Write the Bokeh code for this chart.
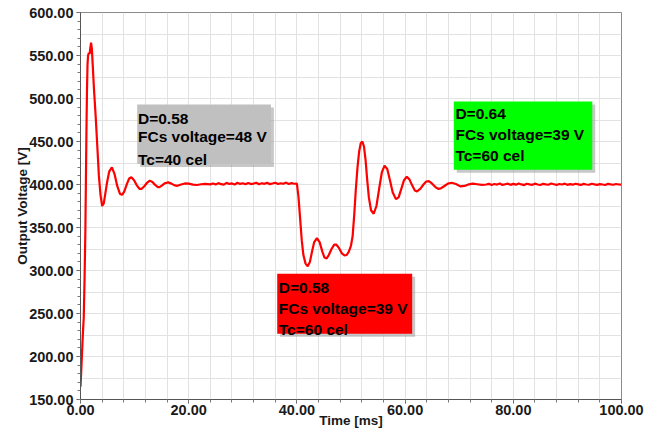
import numpy as np
from bokeh.plotting import figure
from bokeh.models import (Range1d, SingleIntervalTicker, PrintfTickFormatter,
                          BoxAnnotation, Label, ColumnDataSource)
from bokeh.embed import file_html
from bokeh.resources import INLINE

# ---- data (time in ms, voltage in V) ----
startup_t = [0.0, 0.15, 0.3, 0.45, 0.6, 0.75, 0.9, 1.0, 1.1, 1.2, 1.3, 1.4, 1.55, 1.7, 1.8,
             1.95, 2.1, 2.25, 2.5, 2.8, 3.1, 3.4, 3.7, 4.0, 4.3, 4.6, 4.9, 5.3, 5.8, 6.3,
             6.8, 7.3, 7.7, 8.1, 8.6, 9.0, 9.4, 9.9, 10.4, 10.9, 11.3, 11.8, 12.3, 12.8,
             13.3, 13.8, 14.3, 14.6, 15.1, 15.6, 16.2, 16.8, 17.4, 17.9, 18.6, 19.3, 20.0,
             20.8, 21.5, 22.3, 23.0, 24.0]
startup_v = [165, 185, 207, 228, 245, 290, 346, 405, 463, 510, 540, 550, 553, 552, 558,
             565, 558, 540, 510, 480, 445, 410, 388, 375, 378, 390, 402, 415, 420, 412,
             398, 389, 388, 392, 401, 407, 408.5, 405, 399, 395, 395, 398, 402, 404.5,
             403, 399.5, 397, 397, 399, 401.5, 402.5, 401, 399, 398.5, 400, 401.2, 401,
             399.8, 399.4, 400.3, 400.8, 400.2]

flat1_t = [24.5, 25.0, 25.5, 26.0, 26.5, 27.0, 27.5, 28.0, 28.5, 29.0, 29.5, 30.0, 30.5,
           31.0, 31.5, 32.0, 32.5, 33.0, 33.5, 34.0, 34.5, 35.0, 35.5, 36.0, 36.5, 37.0,
           37.5, 38.0, 38.5, 39.0, 39.5]
flat1_v = [401.2, 400.0, 401.6, 400.4, 399.8, 401.9, 400.6, 401.3, 399.9, 402.0, 400.7,
           401.4, 400.2, 401.8, 400.5, 401.1, 402.1, 400.3, 401.5, 400.8, 401.9, 400.4,
           401.2, 402.0, 400.6, 401.4, 400.9, 402.2, 400.5, 401.6, 400.9]

dip_t = [40.0, 40.3, 40.6, 40.9, 41.2, 41.6, 42.0, 42.4, 42.8, 43.2, 43.7, 44.2, 44.7,
         45.1, 45.5, 45.9, 46.4, 46.9, 47.3, 47.8, 48.3, 48.8, 49.2, 49.6, 50.0, 50.3,
         50.6, 50.9, 51.2, 51.5, 51.8, 52.1, 52.4, 52.7, 53.0, 53.3, 53.7, 54.2, 54.7,
         55.2, 55.7, 56.2, 56.7, 57.2, 57.7, 58.3, 58.8, 59.3, 59.8, 60.3, 60.8, 61.3,
         61.8, 62.2, 62.8, 63.4, 63.9, 64.4, 65.0, 65.6, 66.1, 66.6, 67.2, 67.9, 68.6,
         69.4, 70.2, 71.0, 71.8, 72.5, 73.3, 74.2, 75.0]
dip_v = [401, 385, 360, 335, 318, 308, 305, 310, 322, 333, 337.5, 333, 322,
         315, 314, 318, 325, 330, 330, 326, 320, 317.5, 318, 322, 329, 340,
         365, 395, 420, 438, 448, 450, 444, 428, 405, 385, 370, 366, 375,
         395, 414, 422, 418, 405, 391, 383, 385, 395, 405, 409, 406, 399,
         393, 392, 395, 400, 403.5, 404, 401, 397, 395, 395.5, 398, 401, 402,
         400.5, 397.8, 398.3, 400.2, 401, 400.3, 399.5, 400]

flat2_t = [75.5, 76.0, 76.5, 77.0, 77.5, 78.0, 78.5, 79.0, 79.5, 80.0, 80.5, 81.0, 81.5,
           82.0, 82.5, 83.0, 83.5, 84.0, 84.5, 85.0, 85.5, 86.0, 86.5, 87.0, 87.5, 88.0,
           88.5, 89.0, 89.5, 90.0, 90.5, 91.0, 91.5, 92.0, 92.5, 93.0, 93.5, 94.0, 94.5,
           95.0, 95.5, 96.0, 96.5, 97.0, 97.5, 98.0, 98.5, 99.0, 99.5, 100.0]
flat2_v = [400.8, 399.4, 400.6, 399.9, 401.1, 399.5, 400.3, 401.0, 399.6, 400.7, 399.8,
           401.2, 400.1, 399.3, 400.9, 400.2, 399.6, 401.0, 400.0, 399.4, 400.8, 400.1,
           399.7, 401.1, 400.3, 399.5, 400.6, 400.0, 401.0, 399.6, 400.4, 399.8, 400.9,
           400.2, 399.5, 400.7, 400.0, 399.7, 400.9, 400.1, 399.6, 400.5, 400.0, 399.4,
           400.8, 400.2, 399.7, 400.6, 400.0, 399.8]

time_ms = startup_t + flat1_t + dip_t + flat2_t
volts = startup_v + flat1_v + dip_v + flat2_v

x_major_step = 20
y_major_step = 50

FONT = "Liberation Sans"

p = figure(width=654, height=430, output_backend="svg", toolbar_location=None,
           x_range=Range1d(0, 100), y_range=Range1d(150, 600),
           min_border_left=80, min_border_right=33, min_border_top=12, min_border_bottom=31)
p.background_fill_color = "white"
p.border_fill_color = "white"
p.outline_line_color = "#8a8a8a"
p.outline_line_width = 1

# axes
p.xaxis.ticker = SingleIntervalTicker(interval=x_major_step, num_minor_ticks=5)
p.yaxis.ticker = SingleIntervalTicker(interval=y_major_step, num_minor_ticks=5)
for ax in (p.xaxis[0], p.yaxis[0]):
    ax.formatter = PrintfTickFormatter(format="%.2f")
    ax.major_label_text_font = FONT
    ax.major_label_text_font_style = "bold"
    ax.major_label_text_font_size = "14.5px"
    ax.major_label_text_color = "#1a1a1a"
    ax.axis_line_color = "#555555"
    ax.major_tick_line_color = "#555555"
    ax.minor_tick_line_color = "#777777"
    ax.major_tick_in = 0
    ax.minor_tick_in = 0
    ax.axis_label_text_font = FONT
    ax.axis_label_text_font_style = "bold"
    ax.axis_label_text_font_size = "13.5px"
    ax.axis_label_text_color = "#1a1a1a"
p.xaxis.major_tick_out = 4
p.xaxis.minor_tick_out = 3
p.xaxis.major_label_standoff = 1
p.xaxis.axis_label = "Time [ms]"
p.xaxis.axis_label_standoff = -5
p.yaxis.major_tick_out = 4
p.yaxis.minor_tick_out = 3
p.yaxis.major_label_standoff = 3
p.yaxis.axis_label = "Output Voltage [V]"
p.yaxis.axis_label_standoff = -4

# grid
p.xgrid.ticker = SingleIntervalTicker(interval=4)
p.ygrid.ticker = SingleIntervalTicker(interval=25)
p.xgrid.grid_line_color = "#e2e2e2"
p.ygrid.grid_line_color = "#e2e2e2"

# annotation boxes (shadow + box)
boxes = [
    dict(l=10.48, r=35.2, t=493.0, b=423.8, c="#c0c0c0",
         lines=["D=0.58", "FCs voltage=48 V", "Tc=40 cel"], tx=10.63, ty=[477.1, 455.8, 429.1]),
    dict(l=36.36, r=61.31, t=296.2, b=226.4, c="#ff0000",
         lines=["D=0.58", "FCs voltage=39 V", "Tc=60 cel"], tx=36.65, ty=[280.6, 256.2, 231.4]),
    dict(l=69.0, r=94.6, t=496.5, b=417.1, c="#00ff00",
         lines=["D=0.64", "FCs voltage=39 V", "Tc=60 cel"], tx=69.3, ty=[482.2, 457.8, 433.7]),
]
for bx in boxes:
    p.add_layout(BoxAnnotation(left=bx["l"] + 0.55, right=bx["r"] + 0.55,
                               top=bx["t"] - 3.5, bottom=bx["b"] - 3.5,
                               fill_color="#9a9a9a", fill_alpha=0.55, line_alpha=0,
                               level="underlay"))
for bx in boxes:
    p.add_layout(BoxAnnotation(left=bx["l"], right=bx["r"], top=bx["t"], bottom=bx["b"],
                               fill_color=bx["c"], fill_alpha=1.0, line_alpha=0,
                               level="underlay"))

# signal
src = ColumnDataSource(dict(t=time_ms, v=volts))
p.line("t", "v", source=src, line_color="#ff0000", line_width=2.2)

for bx in boxes:
    for txt, yy in zip(bx["lines"], bx["ty"]):
        p.add_layout(Label(x=bx["tx"], y=yy, text=txt, text_font=FONT,
                           text_font_style="bold", text_font_size="15.5px",
                           text_color="#000000", text_baseline="alphabetic",
                           text_align="left"))

open("out.html", "w").write(file_html(p, INLINE))
